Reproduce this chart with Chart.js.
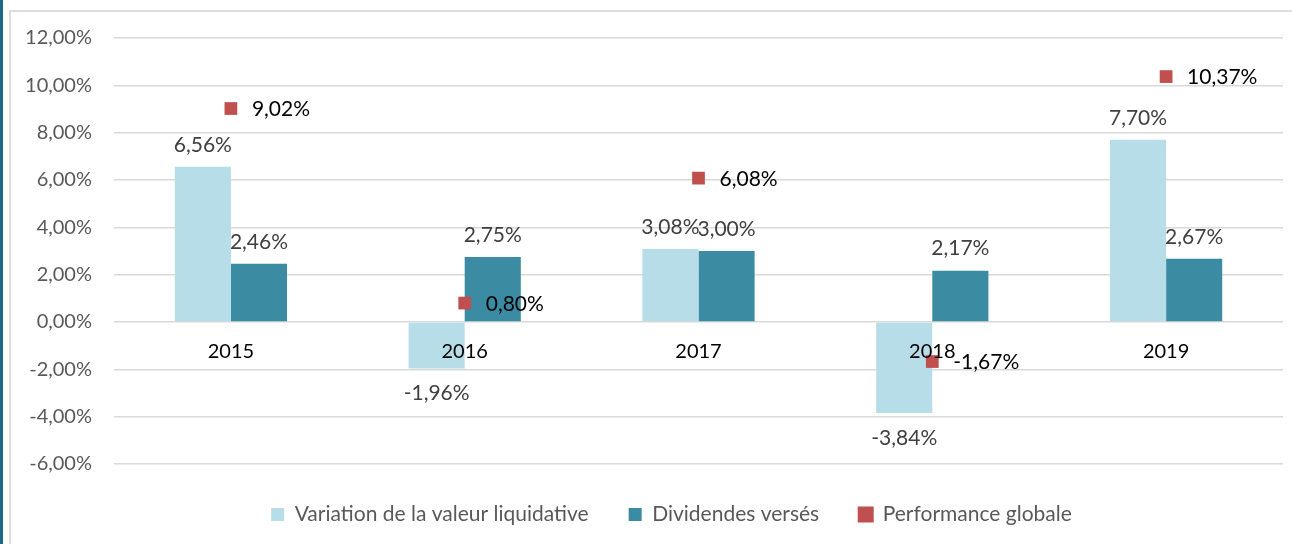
<!DOCTYPE html>
<html>
<head>
<meta charset="utf-8">
<script src="https://cdn.jsdelivr.net/npm/chart.js@4.4.1/dist/chart.umd.min.js"></script>
<style>
  html, body { margin: 0; padding: 0; background: #fff; }
  #wrap { position: relative; width: 1292px; height: 544px; overflow: hidden; }
  #edge { position: absolute; left: 0; top: 0; width: 3px; height: 544px; background: #1d6b82; }
  #frame { position: absolute; left: 9px; top: 10px; width: 1400px; height: 600px;
           border-top: 2px solid #dedede; border-left: 2px solid #dedede; }
  canvas { position: absolute; left: 0; top: 0; }
</style>
</head>
<body>
<div id="wrap">
  <div id="edge"></div>
  <div id="frame"></div>
  <canvas id="perfChart" width="1292" height="544"></canvas>
</div>
<script>
const years = ["2015", "2016", "2017", "2018", "2019"];
const variation = [6.56, -1.96, 3.08, -3.84, 7.70];
const dividendes = [2.46, 2.75, 3.00, 2.17, 2.67];
const performance = [9.02, 0.80, 6.08, -1.67, 10.37];
const seriesNames = ["Variation de la valeur liquidative", "Dividendes versés", "Performance globale"];
const yTicks = { min: -6, max: 12, step: 2 };

const FONT = "Lato";
const fmt = (v) => v.toFixed(2).replace(".", ",") + "%";

// draws the value labels next to bars and points
const valueLabels = {
  id: "valueLabels",
  afterLayout(chart) {
    // legend sits a bit right of the canvas centre in the original
    if (chart.legend) chart.legend.left = 58;
  },
  afterDatasetsDraw(chart) {
    const ctx = chart.ctx;
    ctx.save();
    ctx.font = "21px " + FONT;
    ctx.textBaseline = "middle";
    chart.data.datasets.forEach((ds, i) => {
      const meta = chart.getDatasetMeta(i);
      meta.data.forEach((el, j) => {
        const v = ds.data[j];
        if (ds.type === "line") {
          ctx.fillStyle = "#000";
          ctx.textAlign = "left";
          ctx.fillText(fmt(v), el.x + 21, el.y + 1);
        } else {
          ctx.fillStyle = "#404040";
          ctx.textAlign = "center";
          const y = v >= 0 ? el.y - 22 : el.y + 25;
          ctx.fillText(fmt(v), el.x, y);
        }
      });
    });
    ctx.restore();
  }
};

new Chart(document.getElementById("perfChart").getContext("2d"), {
  type: "bar",
  data: {
    labels: years,
    datasets: [
      {
        label: seriesNames[0],
        data: variation,
        backgroundColor: "#b7dde8",
        categoryPercentage: 0.48,
        barPercentage: 1,
        order: 1
      },
      {
        label: seriesNames[1],
        data: dividendes,
        backgroundColor: "#3b8ba3",
        categoryPercentage: 0.48,
        barPercentage: 1,
        order: 1
      },
      {
        type: "line",
        label: seriesNames[2],
        data: performance,
        showLine: false,
        pointStyle: "rect",
        pointRadius: 9,
        pointHoverRadius: 9,
        pointBorderWidth: 0,
        backgroundColor: "#c0504d",
        borderColor: "#c0504d",
        order: 0
      }
    ]
  },
  options: {
    responsive: false,
    animation: false,
    layout: { padding: { left: 0, right: 7, top: 38, bottom: 9 } },
    plugins: {
      tooltip: { enabled: false },
      legend: {
        position: "bottom",
        labels: {
          boxWidth: 13,
          boxHeight: 13,
          color: "#595959",
          font: { family: FONT, size: 21 },
          padding: 40,
          sort: (a, b) => a.datasetIndex - b.datasetIndex
        }
      }
    },
    scales: {
      x: {
        position: { y: 0 },
        grid: { display: false },
        border: { display: false },
        ticks: { z: 1, color: "#000", font: { family: FONT, size: 20 }, padding: 10 }
      },
      y: {
        min: yTicks.min,
        max: yTicks.max,
        afterFit: (scale) => { scale.width = 114; },
        grid: { color: "#d9d9d9", lineWidth: 1.5, drawTicks: false },
        border: { display: false },
        ticks: {
          stepSize: yTicks.step,
          padding: 22,
          color: "#595959",
          font: { family: FONT, size: 20 },
          callback: (v) => fmt(v)
        }
      }
    }
  },
  plugins: [valueLabels]
});
</script>
</body>
</html>
